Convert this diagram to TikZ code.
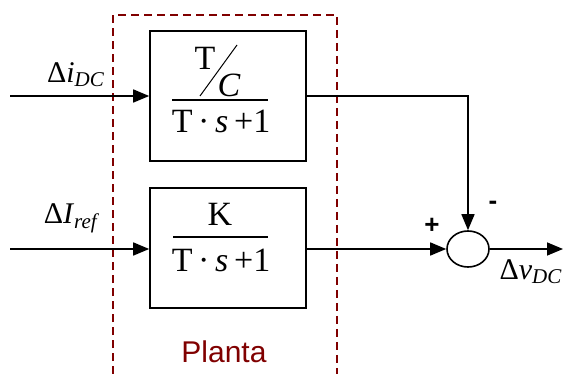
\documentclass[tikz,border=0pt]{standalone}
\usepackage{fontspec}
\setmainfont{Liberation Serif}
\newfontfamily\labelfont{Liberation Sans}
\usetikzlibrary{arrows.meta,positioning,shapes.geometric}

\definecolor{plantred}{RGB}{128,0,0}

\begin{document}
\begin{tikzpicture}[x=0.5pt, y=-0.5pt,
      block/.style={draw, line width=0.8pt, minimum width=78pt},
      term/.style={anchor=base, inner sep=0pt, font=\fontsize{17}{20}\selectfont},
      sumnode/.style={draw, ellipse, line width=0.8pt, minimum width=21pt, minimum height=18pt, inner sep=0pt},
      sig/.style={font=\fontsize{15}{17}\selectfont},
      sign/.style={font=\labelfont\bfseries\fontsize{13}{15}\selectfont},
      every path/.style={line width=0.8pt},
      >={Triangle[length=8pt, width=6.5pt]}
    ]
    \useasboundingbox (0,0) rectangle (563,374);

    % planta
    \draw[plantred, dash pattern=on 4pt off 2.5pt] (113,374) -- (113,15) -- (337,15) -- (337,374);
    \node[text=plantred, font=\labelfont\fontsize{15}{17}\selectfont] (planta) at (224,352) {Planta};

    \node[block, minimum height=65pt] (b1) at (228,96) {};
    \node[block, minimum height=60pt] (b2) at (228,248) {};

    % fraction 1
    \node[term] (n1a) at (205,70) {T};
    \node[term] (n1b) at (229,97) {\textit{C}};
    \draw[line width=0.5pt] (237,45) -- (200,96);
    \draw[line width=0.7pt] (172,100) -- (268,100);
    \node[term] (d1) at (221,133) {T\,·\,\textit{s}\,+1};

    % fraction 2
    \node[term] (n2) at (220,226) {K};
    \draw[line width=0.7pt] (173,237) -- (268,237);
    \node[term] (d2) at (221,271) {T\,·\,\textit{s}\,+1};

    \node[sumnode] (sum) at (468,249) {};

    \coordinate (in1) at (10,96);
    \coordinate (in2) at (10,249);
    \coordinate (out) at (563,249);

    \draw[->] (in1) -- (b1);
    \draw[->] (in2) -- (b2.west |- in2);
    \draw[->] (b1) -| (sum);
    \draw[->] (b2.east |- sum) -- (sum);
    \draw[->] (sum) -- (out);

    \node[sig] (lin1) at (76,75) {Δ\textit{i}\textsubscript{\textit{DC}}};
    \node[sig] (lin2) at (72,218) {Δ\textit{I}\textsubscript{\textit{ref}}};
    \node[sig] (lout) at (531,272) {Δ\textit{v}\textsubscript{\textit{DC}}};
    \node[sign] (plus) at (432,226) {+};
    \node[sign] (minus) at (493,205) {-};
  \end{tikzpicture}
\end{document}
